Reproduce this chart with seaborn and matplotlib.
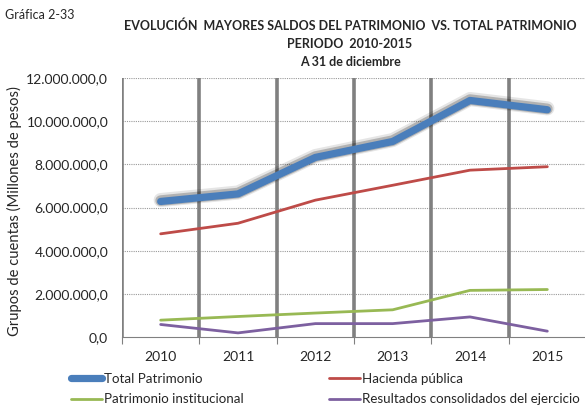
import matplotlib
matplotlib.use("Agg")
import matplotlib.pyplot as plt
import matplotlib.patheffects as pe
from matplotlib.ticker import FuncFormatter, FixedLocator
import seaborn as sns
import pandas as pd

years = ["2010", "2011", "2012", "2013", "2014", "2015"]
total_patrimonio = [6.28e6, 6.63e6, 8.32e6, 9.06e6, 10.96e6, 10.53e6]
hacienda_publica = [4.78e6, 5.27e6, 6.34e6, 7.03e6, 7.73e6, 7.89e6]
patrimonio_institucional = [0.78e6, 0.95e6, 1.11e6, 1.26e6, 2.16e6, 2.20e6]
resultados_consolidados = [0.58e6, 0.19e6, 0.62e6, 0.62e6, 0.93e6, 0.27e6]

series_names = ["Total Patrimonio", "Hacienda pública",
                "Patrimonio institucional", "Resultados consolidados del ejercicio"]
series_values = [total_patrimonio, hacienda_publica,
                 patrimonio_institucional, resultados_consolidados]
colors = ["#4A7EBB", "#BE4B48", "#98B954", "#7D60A0"]
widths = [5.2, 2.0, 2.0, 2.0]

sns.set_theme(style="white")
plt.rcParams["font.family"] = ["Lato", "DejaVu Sans"]
plt.rcParams["xtick.bottom"] = True

fig = plt.figure(figsize=(5.85, 4.07), dpi=100)
W, H = 585, 407
left, right, top, bottom = 122, 586, 78, 337
ax = fig.add_axes([left / W, 1 - bottom / H, (right - left) / W, (bottom - top) / H])

x = list(range(len(years)))
for name, vals, c, lw in zip(series_names, series_values, colors, widths):
    df = pd.DataFrame({"x": x, "y": vals})
    sns.lineplot(data=df, x="x", y="y", ax=ax, color=c, linewidth=lw, label=name,
                 legend=False, solid_capstyle="round", solid_joinstyle="round", zorder=3)
    if lw > 3:
        ax.lines[-1].set_path_effects([
            pe.SimpleLineShadow(offset=(0, 1.0), shadow_color="black", alpha=0.10, linewidth=lw + 5),
            pe.SimpleLineShadow(offset=(0, 0.6), shadow_color="black", alpha=0.22, linewidth=lw + 2.5),
            pe.Normal()])

ax.set_xlim(-0.5, 5.5)
ax.set_ylim(0, 12e6)
ax.set_xticks(x)
ax.set_xticklabels(years, fontsize=10)
ax.xaxis.set_minor_locator(FixedLocator([i - 0.5 for i in range(7)]))
ax.tick_params(axis="x", which="major", length=0, pad=10)
ax.tick_params(axis="x", which="minor", length=5, color="#808080", width=0.8,
               direction="out", bottom=True)
ax.grid(False)
for xv in [i - 0.5 for i in range(6)]:
    ax.axvline(xv, color="#808080", linewidth=2.6, zorder=1)

ax.set_yticks([i * 2e6 for i in range(7)])
ax.yaxis.set_major_formatter(FuncFormatter(
    lambda v, p: f"{v:,.1f}".replace(",", "X").replace(".", ",").replace("X", ".")))
ax.tick_params(axis="y", labelsize=10, length=0, pad=10)
for yv in [i * 2e6 for i in range(1, 7)]:
    ax.axhline(yv, color="#9a9a9a", linewidth=0.8, linestyle=(0, (1, 1)), zorder=0)

for s in ["top", "right", "left"]:
    ax.spines[s].set_visible(False)
ax.spines["bottom"].set_color("#808080")
ax.spines["bottom"].set_linewidth(0.8)
ax.set_xlabel("")
ax.set_ylabel("")
fig.text(14 / W, 1 - 211 / H, "Grupos de cuentas (Millones de pesos)", fontsize=10.6,
         rotation=90, ha="center", va="center")

fig.text(5 / W, 1 - 15 / H, "Gráfica 2-33", fontsize=9, va="center", ha="left")
fig.text(350 / W, 1 - 26 / H, "EVOLUCIÓN  MAYORES SALDOS DEL PATRIMONIO  VS. TOTAL PATRIMONIO",
         fontsize=9, fontweight="bold", ha="center", va="center")
fig.text(350 / W, 1 - 44 / H, "PERIODO  2010-2015", fontsize=9, fontweight="bold",
         ha="center", va="center")
fig.text(350 / W, 1 - 62 / H, "A 31 de diciembre", fontsize=9, fontweight="bold",
         ha="center", va="center")

h = ax.lines[:4]
common = dict(loc="upper left", frameon=False, fontsize=9.6, handlelength=2.3,
              handletextpad=0.15, labelspacing=0.62, borderaxespad=0, borderpad=0)
leg1 = fig.legend([h[0], h[2]], [series_names[0], series_names[2]],
                  bbox_to_anchor=(71 / W, 1 - 373 / H), **common)
leg2 = fig.legend([h[1], h[3]], [series_names[1], series_names[3]],
                  bbox_to_anchor=(329 / W, 1 - 373 / H), **common)
for leg in (leg1, leg2):
    for lh in leg.get_lines():
        lh.set_path_effects([])

fig.savefig("out.png", dpi=100)
